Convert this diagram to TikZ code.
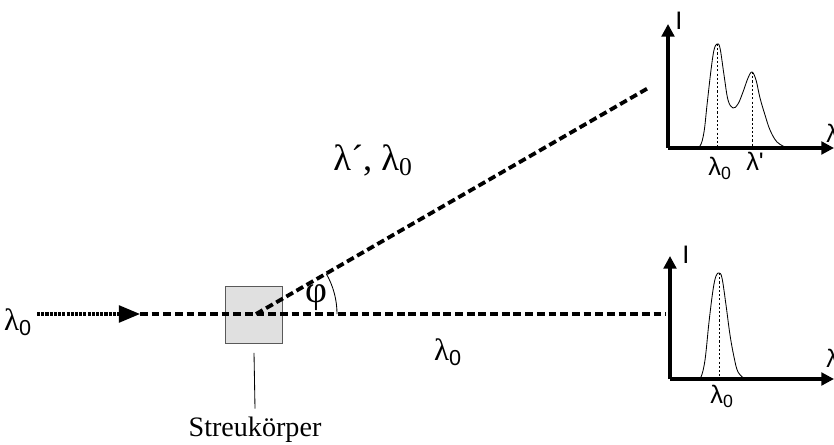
\documentclass[tikz,border=0pt]{standalone}
\usepackage{fontspec}
\setmainfont{Liberation Serif}
\newfontfamily\plotfont{Liberation Sans}
\usetikzlibrary{arrows.meta, positioning}

\begin{document}
\begin{tikzpicture}[
  x=0.025cm, y=-0.025cm,
  beam/.style={line width=2.7pt, dash pattern=on 5.5pt off 2.8pt},
  inbeam/.style={line width=2.5pt, dash pattern=on 2.2pt off 0.8pt},
  axis/.style={line width=2.2pt, -{Triangle[length=9pt, width=9pt]}},
  peak/.style={dash pattern=on 1.5pt off 1.5pt, line width=0.5pt},
  lbl/.style={font=\fontsize{22}{24}\selectfont, inner sep=0pt},
  plbl/.style={font=\plotfont\fontsize{18}{20}\selectfont, inner sep=0pt}
]
  \useasboundingbox (0,0) rectangle (834,445);
  % beam and sample
  \node[draw=black!65, fill=black!12, line width=0.7pt, minimum width=41pt, minimum height=40pt] (probe) at (254,315) {};
  \coordinate (src) at (37,314);
  \coordinate (tip) at (140,314);
  \coordinate (hit) at (256,314);
  \coordinate (geradeaus) at (666,314);
  \coordinate (gestreut) at (650,87);
  \draw[inbeam] (src) -- (120,314);
  \draw[-{Triangle[length=15pt, width=12pt]}, line width=2pt] (118,314) -- (tip);
  \draw[beam] (tip) -- (geradeaus);
  \draw[beam] (hit) -- (gestreut);
  \draw[line width=0.6pt] (hit) ++(81,0) arc[start angle=0, end angle=-30, radius=81];
  \node[lbl] (l0in) at (18,322) {λ\textsubscript{\plotfont 0}};
  \node[lbl, font=\fontsize{27}{29}\selectfont] (phi) at (316,298) {φ};
  \node[lbl, font=\fontsize{26}{28}\selectfont] (lsc) at (373,160) {λ´, λ\textsubscript{0}};
  \node[lbl] (l0out) at (448,352) {λ\textsubscript{\plotfont 0}};
  \node[font=\fontsize{20}{22}\selectfont, inner sep=0pt] (streu) at (255,430) {Streukörper};
  \draw[line width=0.6pt] ([yshift=-6.5pt]probe.south) -- ([yshift=6pt]streu.north);

  % upper spectrum
  \coordinate (o1) at (668,148);
  \draw[axis] (o1) -- (668,24);
  \draw[axis] (o1) -- (834,148);
  \draw[line width=0.6pt] plot[smooth, tension=0.6] coordinates {(693,148) (700,146) (704,132) (707,105) (711,70) (714,50) (717,44) (720,48) (724,75) (728,100) (733,108) (738,104) (743,92) (748,78) (752,72) (756,80) (760,98) (765,115) (770,130) (777,142) (787,148)};
  \draw[peak] (717,44) -- (717,148);
  \draw[peak] (752,72) -- (752,148);
  \node[plbl] (i1) at (679,21) {I};
  \node[plbl, anchor=west] (x1) at (826,133) {λ};
  \node[plbl] (p1a) at (720,168) {λ\textsubscript{0}};
  \node[plbl] (p1b) at (755,161) {λ'};

  % lower spectrum
  \coordinate (o2) at (670,379);
  \draw[axis] (o2) -- (670,256);
  \draw[axis] (o2) -- (834,379);
  \draw[line width=0.6pt] plot[smooth, tension=0.6] coordinates {(697,379) (701,377) (705,360) (709,322) (713,290) (716,276) (719,273) (722,278) (726,305) (730,335) (734,357) (738,372) (745,379)};
  \draw[peak] (719,273) -- (719,379);
  \node[plbl] (i2) at (686,255) {I};
  \node[plbl, anchor=west] (x2) at (826,358) {λ};
  \node[plbl] (p2) at (722,396) {λ\textsubscript{0}};
\end{tikzpicture}
\end{document}
